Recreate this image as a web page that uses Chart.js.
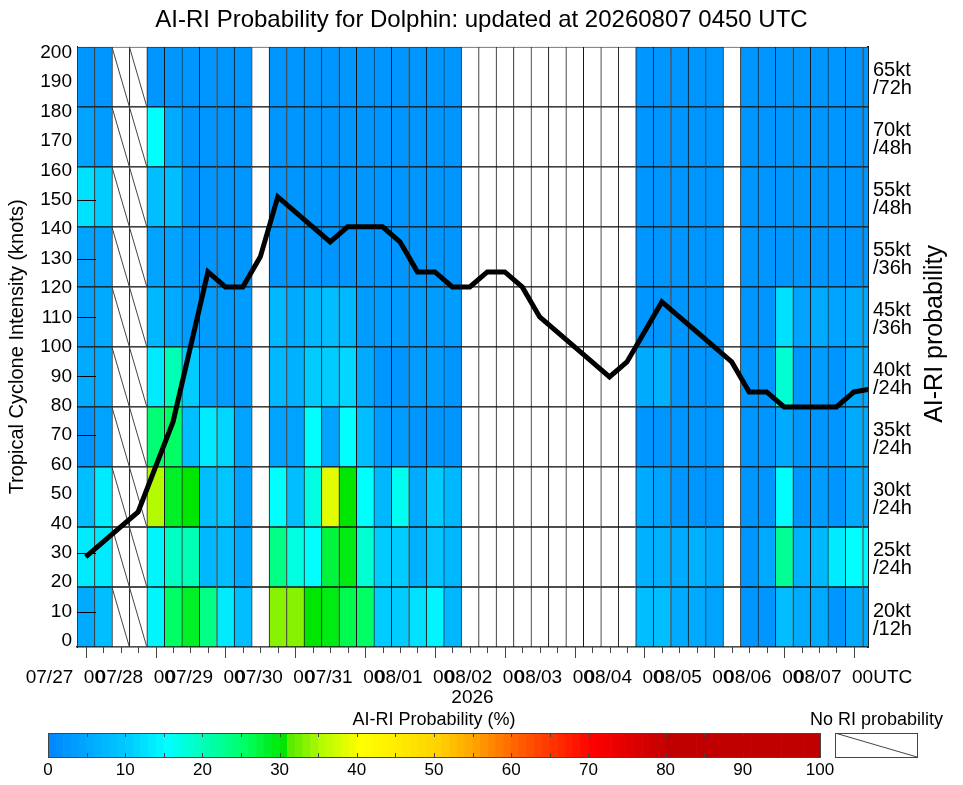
<!DOCTYPE html>
<html>
<head>
<meta charset="utf-8">
<title>AI-RI Probability for Dolphin</title>
<script src="https://cdn.jsdelivr.net/npm/chart.js@4.4.1/dist/chart.umd.min.js"></script>
<style>
  body { margin: 0; background: #fff; }
  #wrap { position: relative; width: 963px; height: 785px; overflow: hidden; }
  #wrap canvas { position: absolute; }
</style>
</head>
<body>
<div id="wrap">
  <canvas id="riChart" width="963" height="712" style="left:0;top:0"></canvas>
  <canvas id="scaleBar" width="870" height="80" style="left:0;top:705px"></canvas>
  <canvas id="noRiBox" width="173" height="80" style="left:790px;top:705px"></canvas>
</div>
<script>
Chart.defaults.font.family = "'Liberation Sans', Arial, Helvetica, sans-serif"
Chart.defaults.color = '#000'

// time axis: one column every 6 h from 07/27 00UTC, chart ends at the update time
const dayLabels = ['07/27', '07/28', '07/29', '07/30', '07/31', '08/01', '08/02', '08/03', '08/04', '08/05', '08/06', '08/07']
const updateStep = 44 + 4.833 / 6   // 08/07 0450 UTC

// best track / forecast intensity (kt), 6-hourly
const intensity = [30, 35, 40, 45, 60, 75, 100, 125, 120, 120, 130, 150, 145, 140, 135, 140, 140, 140, 135, 125,
  125, 120, 120, 125, 125, 120, 110, 105, 100, 95, 90, 95, 105, 115, 110, 105, 100, 95, 85, 85,
  80, 80, 80, 80, 85, 86]

// RI thresholds, bottom row first
const rowLabels = [['20kt', '/12h'], ['25kt', '/24h'], ['30kt', '/24h'], ['35kt', '/24h'], ['40kt', '/24h'],
  ['45kt', '/36h'], ['55kt', '/36h'], ['55kt', '/48h'], ['70kt', '/48h'], ['65kt', '/72h']]

// columns that have "No RI probability" (hatched)
const noRiCols = [2, 3]

// AI-RI probability (%), null = no value
const N = null
const prob20kt12h = [5, 8, N, N, 14, 25, 28, 23, 13, 8, N, 33, 33, 30, 29, 26, 25, 10, 10, 12, 14, 7, N, N, N, N, N, N, N, N, N, N, 8, 8, 5, 5, 4, N, 2, 2, 8, 5, 5, 2, 5, 5]
const prob25kt24h = [13, 13, N, N, 14, 19, 20, 7, 8, 5, N, 23, 17, 15, 27, 29, 18, 10, 10, 6, 9, 7, N, N, N, N, N, N, N, N, N, N, 6, 6, 5, 6, 5, N, 2, 5, 22, 6, 7, 13, 15, 14]
const prob30kt24h = [8, 13, N, N, 35, 28, 30, 8, 9, 4, N, 15, 8, 17, 38, 30, 15, 7, 16, 5, 10, 7, N, N, N, N, N, N, N, N, N, N, 5, 4, 2, 2, 2, N, 2, 2, 15, 2, 3, 2, 5, 5]
const prob35kt24h = [2, 4, N, N, 24, 25, 8, 13, 11, 4, N, 4, 4, 15, 4, 15, 8, 3, 3, 2, 2, 2, N, N, N, N, N, N, N, N, N, N, 2, 2, 2, 2, 2, N, 2, 2, 5, 2, 2, 2, 5, 5]
const prob40kt24h = [5, 5, N, N, 13, 20, 10, 4, 3, 3, N, 7, 6, 10, 10, 11, 5, 2, 2, 3, 3, 2, N, N, N, N, N, N, N, N, N, N, 5, 6, 2, 2, 2, N, 2, 2, 18, 2, 3, 2, 5, 5]
const prob45kt36h = [4, 5, N, N, 7, 5, 3, 3, 3, 3, N, 7, 5, 7, 8, 7, 3, 3, 3, 3, 3, 3, N, N, N, N, N, N, N, N, N, N, 2, 2, 2, 2, 2, N, 2, 2, 12, 4, 5, 4, 5, 5]
const prob55kt36h = [4, 4, N, N, 4, 4, 2, 2, 2, 2, N, 2, 2, 2, 2, 2, 2, 2, 2, 2, 2, 2, N, N, N, N, N, N, N, N, N, N, 2, 2, 2, 2, 2, N, 2, 2, 2, 2, 2, 2, 2, 2]
const prob55kt48h = [12, 10, N, N, 8, 8, 2, 2, 2, 2, N, 2, 2, 2, 2, 2, 2, 2, 2, 2, 2, 2, N, N, N, N, N, N, N, N, N, N, 2, 2, 2, 2, 2, N, 2, 2, 2, 2, 2, 2, 2, 2]
const prob70kt48h = [4, 3, N, N, 15, 5, 2, 2, 2, 2, N, 2, 2, 2, 2, 2, 2, 2, 2, 2, 2, 2, N, N, N, N, N, N, N, N, N, N, 2, 2, 2, 2, 2, N, 2, 2, 2, 2, 2, 2, 2, 2]
const prob65kt72h = [2, 2, N, N, 2, 2, 2, 2, 2, 2, N, 2, 2, 2, 2, 2, 2, 2, 2, 2, 2, 2, N, N, N, N, N, N, N, N, N, N, 2, 2, 2, 2, 2, N, 2, 2, 2, 2, 2, 2, 2, 2]

const probRows = [prob20kt12h, prob25kt24h, prob30kt24h, prob35kt24h, prob40kt24h,
  prob45kt36h, prob55kt36h, prob55kt48h, prob70kt48h, prob65kt72h]

// colour table of the probability scale
const colorStops = [
  [0, [0, 136, 255]], [5, [0, 170, 255]], [10, [0, 204, 255]], [15, [0, 255, 255]],
  [20, [0, 255, 180]], [25, [0, 255, 100]], [30, [0, 230, 0]], [31, [90, 235, 0]],
  [35, [180, 250, 0]], [40, [255, 255, 0]], [45, [255, 235, 0]], [50, [255, 210, 0]],
  [55, [255, 160, 0]], [60, [255, 100, 0]], [65, [255, 50, 0]], [70, [255, 0, 0]],
  [75, [225, 0, 0]], [80, [192, 0, 0]], [100, [192, 0, 0]]
]

function probColor(p) {
  for (var i = 1; i < colorStops.length; i++) {
    if (p <= colorStops[i][0]) {
      var a = colorStops[i - 1], b = colorStops[i]
      var t = (p - a[0]) / (b[0] - a[0])
      var c = a[1].map((v, j) => Math.round(v + (b[1][j] - v) * t))
      return 'rgb(' + c.join(',') + ')'
    }
  }
  return 'rgb(192,0,0)'
}

const rowSize = 20
const innerTicks = [10, 30, 70, 90, 110, 130, 150]

// ---- main chart ----

var cellSets = probRows.map(function (row, r) {
  return {
    type: 'bar',
    data: row.map((p, k) => ({ x: k, y: [r * rowSize, (r + 1) * rowSize] })),
    backgroundColor: row.map(p => p == null ? '#ffffff' : probColor(p)),
    borderColor: '#151515',
    borderWidth: { left: 1, right: 0, top: 1, bottom: 1 },
    borderSkipped: false,
    barPercentage: 1,
    categoryPercentage: 1,
    grouped: false,
    clip: 0,
    order: 3
  }
})

var hatch = []
noRiCols.forEach(function (k) {
  probRows.forEach(function (row, r) {
    hatch.push({ x: k - 0.5, y: (r + 1) * rowSize }, { x: k + 0.5, y: r * rowSize }, { x: k, y: null })
  })
})

const riExtras = {
  id: 'riExtras',
  afterDatasetsDraw(chart) {
    const { ctx, chartArea: a, scales } = chart
    ctx.save()
    ctx.strokeStyle = '#000'
    ctx.lineWidth = 1
    ctx.beginPath()
    innerTicks.forEach(function (v) {
      var y = Math.round(scales.yl.getPixelForValue(v)) + 0.5
      ctx.moveTo(a.left, y)
      ctx.lineTo(a.left + 19, y)
    })
    ctx.stroke()
    ctx.restore()
  },
  afterDraw(chart) {
    const { ctx, chartArea: a, scales } = chart
    ctx.save()
    ctx.strokeStyle = '#444'
    ctx.lineWidth = 1
    ctx.beginPath()
    for (var k = 0; k <= scales.x.max; k++) {
      var px = Math.round(scales.x.getPixelForValue(k)) + 0.5
      ctx.moveTo(px, a.bottom)
      ctx.lineTo(px, a.bottom + (k % 4 === 0 ? 11 : 6))
    }
    ctx.stroke()
    // right hand axis title reads bottom to top
    ctx.translate(a.right + 74, (a.top + a.bottom) / 2 - 13)
    ctx.rotate(-Math.PI / 2)
    ctx.font = "25px 'Liberation Sans', Arial, sans-serif"
    ctx.fillStyle = '#000'
    ctx.textAlign = 'center'
    ctx.textBaseline = 'alphabetic'
    ctx.fillText('AI-RI probability', 0, 0)
    ctx.restore()
  }
}

new Chart(document.getElementById('riChart'), {
  type: 'bar',
  data: {
    datasets: [{
      type: 'line',
      data: intensity.map((v, k) => ({ x: k, y: v })),
      borderColor: '#000',
      borderWidth: 5,
      pointRadius: 0,
      tension: 0,
      clip: 0,
      order: 0
    }, {
      type: 'line',
      data: hatch,
      borderColor: '#444',
      borderWidth: 1,
      pointRadius: 0,
      spanGaps: false,
      clip: 0,
      order: 1
    }].concat(cellSets)
  },
  options: {
    responsive: false,
    animation: false,
    devicePixelRatio: 1,
    layout: { padding: 0 },
    plugins: {
      legend: { display: false },
      tooltip: { enabled: false },
      title: {
        display: true,
        text: 'AI-RI Probability for Dolphin: updated at 20260807 0450 UTC',
        font: { size: 24, weight: 'normal' },
        color: '#000',
        padding: { top: 6, bottom: 12 }
      }
    },
    scales: {
      x: {
        type: 'linear',
        min: -0.5,
        max: updateStep,
        offset: false,
        grid: { display: false, drawTicks: false },
        border: { display: true, color: '#222', width: 1.5 },
        afterBuildTicks: function (s) { s.ticks = dayLabels.map((d, i) => ({ value: i * 4 })) },
        ticks: {
          callback: (v, i) => dayLabels[i] + '  00' + (i === dayLabels.length - 1 ? 'UTC' : ''),
          align: 'start',
          labelOffset: -60,
          padding: 19,
          autoSkip: false,
          maxRotation: 0,
          minRotation: 0,
          font: { size: 19 }
        },
        title: { display: true, text: '2026', font: { size: 19 }, padding: { top: 0, bottom: 3 } },
        afterFit: function (s) { s.height = 65; s.paddingLeft = 0; s.paddingRight = 0 }
      },
      y: { display: false, min: 0, max: 200 },
      yl: {
        type: 'linear',
        position: 'left',
        min: -2.04,
        max: 202.04,
        grid: { display: false, drawTicks: false },
        border: { display: true, color: '#222', width: 1 },
        afterBuildTicks: function (s) {
          var t = []
          for (var v = 0; v <= 200; v += 10) t.push({ value: v })
          s.ticks = t
        },
        ticks: { font: { size: 19 }, padding: 5, autoSkip: false },
        title: {
          display: true,
          text: 'Tropical Cyclone Intensity (knots)',
          font: { size: 20 },
          padding: { top: 5, bottom: 0 }
        },
        afterFit: function (s) { s.width = 77 }
      },
      y2: {
        type: 'linear',
        position: 'right',
        min: 0,
        max: 200,
        grid: { display: false, drawTicks: false },
        border: { display: true, color: '#222', width: 2 },
        afterBuildTicks: function (s) { s.ticks = rowLabels.map((l, r) => ({ value: r * rowSize + rowSize / 2 })) },
        ticks: {
          callback: (v, i) => rowLabels[i],
          font: { size: 20, lineHeight: 0.9 },
          padding: 5,
          labelOffset: 3,
          autoSkip: false
        },
        afterFit: function (s) { s.width = 95 }
      }
    }
  },
  plugins: [riExtras]
})

// ---- colour bar ----

var levels = []
for (var i = 0; i < 100; i++) levels.push(i)

const boxFrame = {
  id: 'boxFrame',
  afterDraw(chart, args, opts) {
    const { ctx, chartArea: a, scales } = chart
    ctx.save()
    ctx.strokeStyle = '#444'
    ctx.lineWidth = 1
    ctx.strokeRect(Math.round(a.left) + 0.5, Math.round(a.top) + 0.5, Math.round(a.width), Math.round(a.height))
    if (opts.tickStep) {
      ctx.beginPath()
      for (var v = opts.tickStep; v < scales.x.max; v += opts.tickStep) {
        var px = Math.round(scales.x.getPixelForValue(v)) + 0.5
        ctx.moveTo(px, a.top); ctx.lineTo(px, a.top + 4)
        ctx.moveTo(px, a.bottom); ctx.lineTo(px, a.bottom - 4)
      }
      ctx.stroke()
    }
    ctx.restore()
  }
}

new Chart(document.getElementById('scaleBar'), {
  type: 'bar',
  data: {
    datasets: [{
      data: levels.map(v => ({ x: v + 0.5, y: 1 })),
      backgroundColor: levels.map(v => probColor(v)),
      borderWidth: 0,
      barPercentage: 1,
      categoryPercentage: 1
    }]
  },
  options: {
    responsive: false,
    animation: false,
    devicePixelRatio: 1,
    layout: { padding: { left: 48, right: 50, top: 0, bottom: 0 } },
    plugins: { legend: { display: false }, tooltip: { enabled: false }, boxFrame: { tickStep: 5 } },
    scales: {
      x: {
        type: 'linear',
        min: 0,
        max: 100,
        offset: false,
        grid: { display: false, drawTicks: false },
        border: { display: false },
        afterBuildTicks: function (s) {
          var t = []
          for (var v = 0; v <= 100; v += 10) t.push({ value: v })
          s.ticks = t
        },
        ticks: { font: { size: 17 }, padding: 3, maxRotation: 0, autoSkip: false },
        afterFit: function (s) { s.height = 28; s.paddingLeft = 0; s.paddingRight = 0 }
      },
      xt: {
        type: 'linear',
        position: 'top',
        min: 0,
        max: 100,
        grid: { display: false, drawTicks: false },
        border: { display: false },
        ticks: { display: false },
        title: { display: true, text: 'AI-RI Probability (%)', font: { size: 18 }, padding: { top: 4, bottom: 0 } },
        afterFit: function (s) { s.height = 28 }
      },
      y: { display: false, min: 0, max: 1 }
    }
  },
  plugins: [boxFrame]
})

// ---- "No RI probability" key ----

// empty side axes keep the box narrow while the title keeps the full width
const sideAxis = {
  min: 0,
  max: 1,
  grid: { display: false, drawTicks: false },
  border: { display: false },
  ticks: { display: false }
}

new Chart(document.getElementById('noRiBox'), {
  type: 'line',
  data: {
    datasets: [{
      data: [{ x: 0, y: 1 }, { x: 1, y: 0 }],
      borderColor: '#444',
      borderWidth: 1,
      pointRadius: 0
    }]
  },
  options: {
    responsive: false,
    animation: false,
    devicePixelRatio: 1,
    layout: { padding: { left: 0, right: 0, top: 0, bottom: 28 } },
    plugins: {
      legend: { display: false },
      tooltip: { enabled: false },
      boxFrame: {},
      title: {
        display: true,
        text: 'No RI probability',
        font: { size: 18, weight: 'normal' },
        color: '#000',
        padding: { top: 4, bottom: 2.4 }
      }
    },
    scales: {
      x: { type: 'linear', min: 0, max: 1, display: false },
      y: Object.assign({ position: 'left', afterFit: s => { s.width = 45 } }, sideAxis),
      yr: Object.assign({ position: 'right', afterFit: s => { s.width = 46 } }, sideAxis)
    }
  },
  plugins: [boxFrame]
})
</script>
</body>
</html>
